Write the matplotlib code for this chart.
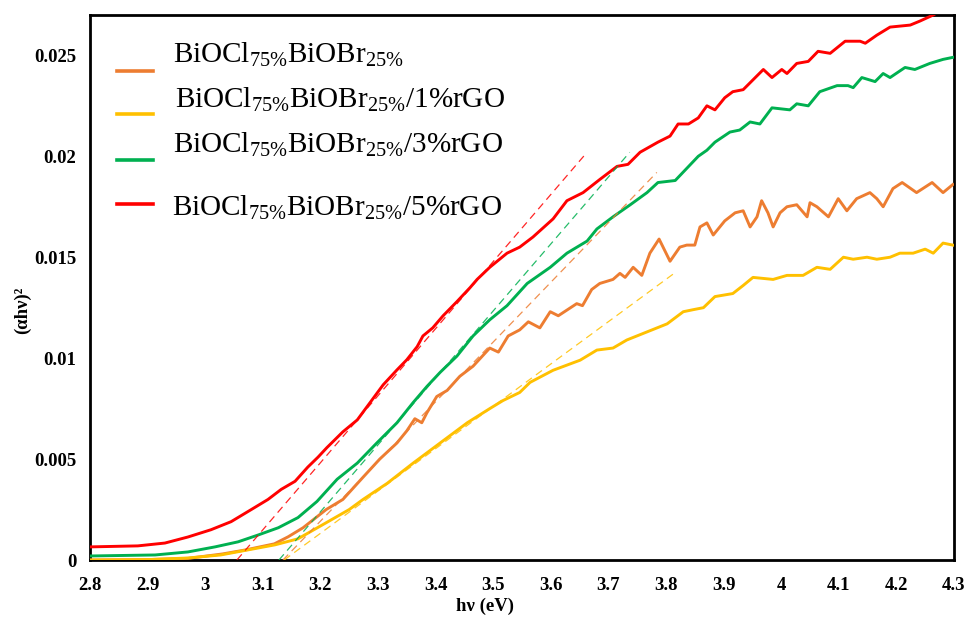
import numpy as np
import matplotlib
matplotlib.use("Agg")
import matplotlib.pyplot as plt

plt.rcParams['font.family'] = ['Liberation Serif', 'DejaVu Serif']
plt.rcParams['mathtext.fontset'] = 'custom'
plt.rcParams['mathtext.rm'] = 'Liberation Serif'
plt.rcParams['mathtext.it'] = 'Liberation Serif:italic'
plt.rcParams['mathtext.bf'] = 'Liberation Serif:bold'

# (alpha h nu)^2 versus photon energy
x_pure = [2.80, 2.90, 2.97, 3.03, 3.07, 3.12, 3.144, 3.17, 3.21, 3.239, 3.274, 3.303, 3.333,
          3.350, 3.364, 3.376, 3.385, 3.402, 3.420, 3.442, 3.465, 3.494, 3.509, 3.526, 3.546,
          3.561, 3.581, 3.599, 3.613, 3.645, 3.655, 3.671, 3.685, 3.708, 3.720, 3.729, 3.743,
          3.758, 3.772, 3.788, 3.807, 3.824, 3.836, 3.850, 3.859, 3.871, 3.882, 3.902, 3.920,
          3.934, 3.946, 3.958, 3.966, 3.977, 3.986, 3.998, 4.010, 4.027, 4.045, 4.050, 4.062,
          4.082, 4.099, 4.114, 4.131, 4.154, 4.166, 4.177, 4.194, 4.210, 4.235, 4.262, 4.281,
          4.298]
y_pure = [0.0, 0.00002, 0.00008, 0.0003, 0.0005, 0.0008, 0.00115, 0.0016, 0.0025, 0.0030,
          0.0041, 0.0050, 0.0058, 0.0064, 0.0070, 0.0068, 0.0073, 0.0081, 0.0084, 0.0091,
          0.0096, 0.0105, 0.0103, 0.0111, 0.0114, 0.0118, 0.0115, 0.0123, 0.0121, 0.0127,
          0.0126, 0.0134, 0.0137, 0.0139, 0.0142, 0.0140, 0.0145, 0.0141, 0.0152, 0.0159,
          0.0148, 0.0155, 0.0156, 0.0156, 0.0165, 0.0167, 0.0161, 0.0168, 0.0172, 0.0173,
          0.0165, 0.0170, 0.0178, 0.0172, 0.0165, 0.0172, 0.0175, 0.0176, 0.0170, 0.0177,
          0.0175, 0.0170, 0.0179, 0.0173, 0.0179, 0.0182, 0.0179, 0.0175, 0.0184, 0.0187,
          0.0182, 0.0187, 0.0182, 0.0186]

x_rgo1 = [2.80, 2.90, 2.97, 3.027, 3.074, 3.121, 3.161, 3.201, 3.25, 3.274, 3.316, 3.361,
          3.408, 3.455, 3.494, 3.517, 3.546, 3.564, 3.604, 3.651, 3.680, 3.708, 3.732, 3.767,
          3.802, 3.830, 3.847, 3.865, 3.885, 3.916, 3.934, 3.951, 3.986, 4.010, 4.038, 4.062,
          4.085, 4.108, 4.125, 4.149, 4.166, 4.189, 4.206, 4.229, 4.250, 4.264, 4.281, 4.298]
y_rgo1 = [0.0, 0.00002, 0.0001, 0.00025, 0.0005, 0.00075, 0.00105, 0.0017, 0.0025, 0.0030,
          0.0038, 0.0048, 0.0058, 0.0068, 0.0075, 0.0079, 0.0083, 0.0088, 0.0094, 0.0099,
          0.0104, 0.0105, 0.0109, 0.0113, 0.0117, 0.0123, 0.0124, 0.0125, 0.01305, 0.0132,
          0.0136, 0.0140, 0.0139, 0.0141, 0.0141, 0.0145, 0.0144, 0.0150, 0.0149, 0.0150,
          0.0149, 0.0150, 0.0152, 0.0152, 0.0154, 0.0152, 0.0157, 0.0156]

x_rgo3 = [2.80, 2.913, 2.970, 3.017, 3.057, 3.092, 3.127, 3.161, 3.194, 3.229, 3.264, 3.298,
          3.333, 3.361, 3.385, 3.408, 3.437, 3.465, 3.494, 3.524, 3.559, 3.599, 3.628, 3.663,
          3.680, 3.708, 3.738, 3.767, 3.786, 3.816, 3.836, 3.856, 3.871, 3.885, 3.911, 3.928,
          3.946, 3.963, 3.984, 4.015, 4.027, 4.047, 4.067, 4.097, 4.116, 4.125, 4.140, 4.163,
          4.177, 4.189, 4.215, 4.232, 4.258, 4.281, 4.298]
y_rgo3 = [0.0002, 0.00025, 0.0004, 0.00065, 0.0009, 0.00124, 0.0016, 0.0021, 0.0029, 0.0040,
          0.0048, 0.0058, 0.0068, 0.0078, 0.0086, 0.0093, 0.0101, 0.0111, 0.0119, 0.0126,
          0.0137, 0.0145, 0.0152, 0.0158, 0.0164, 0.0170, 0.0176, 0.0182, 0.0187, 0.0188,
          0.0194, 0.0200, 0.0203, 0.0207, 0.0212, 0.0213, 0.0217, 0.0216, 0.0224, 0.0223,
          0.0226, 0.0225, 0.0232, 0.0235, 0.0235, 0.0234, 0.0239, 0.0237, 0.0241, 0.0239,
          0.0244, 0.0243, 0.0246, 0.0248, 0.0249]

x_rgo5 = [2.80, 2.883, 2.930, 2.970, 3.010, 3.045, 3.080, 3.109, 3.132, 3.156, 3.178, 3.196,
          3.211, 3.239, 3.264, 3.286, 3.309, 3.333, 3.350, 3.368, 3.378, 3.395, 3.413, 3.437,
          3.460, 3.472, 3.494, 3.524, 3.546, 3.569, 3.604, 3.628, 3.656, 3.685, 3.715, 3.734,
          3.755, 3.786, 3.807, 3.821, 3.839, 3.856, 3.871, 3.885, 3.902, 3.916, 3.934, 3.969,
          3.984, 4.001, 4.010, 4.027, 4.047, 4.064, 4.085, 4.111, 4.137, 4.146, 4.166, 4.189,
          4.224, 4.241, 4.264, 4.300]
y_rgo5 = [0.00065, 0.0007, 0.00084, 0.00114, 0.0015, 0.0019, 0.0025, 0.0030, 0.0035, 0.0039,
          0.0046, 0.0051, 0.00556, 0.00635, 0.00694, 0.00779, 0.00868, 0.00942, 0.00992,
          0.01057, 0.0111, 0.0115, 0.0121, 0.0128, 0.0135, 0.0139, 0.0145, 0.0152, 0.0155,
          0.0160, 0.0169, 0.0178, 0.0182, 0.01885, 0.0195, 0.0196, 0.0202, 0.0207, 0.0210,
          0.0216, 0.0216, 0.0219, 0.0225, 0.0223, 0.0229, 0.0232, 0.0233, 0.0243, 0.0239,
          0.0243, 0.0241, 0.0246, 0.0247, 0.0252, 0.0251, 0.0257, 0.0257, 0.0256, 0.0260,
          0.0264, 0.0265, 0.0267, 0.0270, 0.0276]

# linear fits to the absorption edge: (start energy, end energy, end value)
fit_pure = (3.135, 3.784, 0.0192)
fit_rgo1 = (3.137, 3.816, 0.01424)
fit_rgo3 = (3.128, 3.737, 0.0202)
fit_rgo5 = (3.055, 3.660, 0.0201)

sub = r'BiOCl$_{\mathregular{75\%}}$BiOBr$_{\mathregular{25\%}}$'
labels = [sub, sub + '/1%rGO', sub + '/3%rGO', sub + '/5%rGO']
colors = ['#ED7D31', '#FFC000', '#00B050', '#FF0000']

xticks = [2.8, 2.9, 3.0, 3.1, 3.2, 3.3, 3.4, 3.5, 3.6, 3.7, 3.8, 3.9, 4.0, 4.1, 4.2, 4.3]
xtick_labels = ['2.8', '2.9', '3', '3.1', '3.2', '3.3', '3.4', '3.5', '3.6', '3.7', '3.8',
                '3.9', '4', '4.1', '4.2', '4.3']
yticks = [0, 0.005, 0.01, 0.015, 0.02, 0.025]
ytick_labels = ['0', '0.005', '0.01', '0.015', '0.02', '0.025']

fig = plt.figure(figsize=(9.70, 6.19), dpi=100)
ax = fig.add_axes([0.0928, 0.0953, 0.8907, 0.8805])

series = [(x_pure, y_pure), (x_rgo1, y_rgo1), (x_rgo3, y_rgo3), (x_rgo5, y_rgo5)]
fits = [fit_pure, fit_rgo1, fit_rgo3, fit_rgo5]

for (xs, ys), c in zip(series, colors):
    ax.plot(xs, ys, color=c, lw=2.1, solid_joinstyle='round', zorder=3)

for (x0, x1, y1), c in zip(fits, colors):
    ax.plot([x0, x1], [0, y1], color=c, lw=0.9, dashes=(6, 4), alpha=0.85, zorder=4)

ax.set_xlim(2.8, 4.3)
ax.set_ylim(0, 0.027)
ax.set_xticks(xticks)
ax.set_xticklabels(xtick_labels)
ax.set_yticks(yticks)
ax.set_yticklabels(ytick_labels)
ax.tick_params(length=0, labelsize=13.5)
ax.tick_params(axis='x', pad=12)
ax.tick_params(axis='y', pad=10)
for lbl in ax.get_xticklabels() + ax.get_yticklabels():
    lbl.set_fontweight('bold')

for s in ax.spines.values():
    s.set_linewidth(2)
    s.set_color('black')

ax.set_xlabel('hν (eV)', fontsize=13.5, fontweight='bold')
ax.xaxis.set_label_coords(0.457, -0.07)
ax.set_ylabel('(αhν)²', fontsize=13.5, fontweight='bold')
ax.yaxis.set_label_coords(-0.068, 0.459)

# legend drawn by hand: short line handles with the labels set a little above
handle_y = [0.897, 0.818, 0.734, 0.653]
text_y = [0.927, 0.844, 0.761, 0.646]
text_x = [0.096, 0.098, 0.096, 0.095]
for c, lab, hy, ty, tx in zip(colors, labels, handle_y, text_y, text_x):
    ax.plot([0.031, 0.073], [hy, hy], color=c, lw=2.6, transform=ax.transAxes, zorder=5)
    ax.text(tx, ty, lab, transform=ax.transAxes, fontsize=21, va='center', ha='left',
            zorder=5)

fig.savefig('out.png', dpi=100)
